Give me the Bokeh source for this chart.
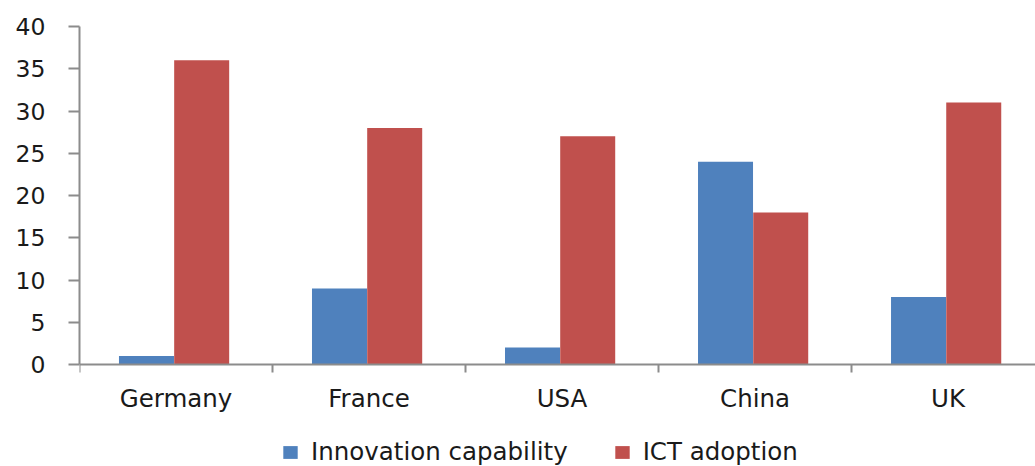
from bokeh.plotting import figure
from bokeh.models import Range1d, FixedTicker, ColumnDataSource, Legend, LegendItem
from bokeh.embed import file_html
from bokeh.resources import INLINE

countries = ["Germany", "France", "USA", "China", "UK"]
innovation = [1, 9, 2, 24, 8]
ict = [36, 28, 27, 18, 31]
y_ticks = [0, 5, 10, 15, 20, 25, 30, 35, 40]

FONT = "DejaVu Sans"
FS_Y = "23.5px"
FS = "24.5px"
AXIS_COLOR = "#8c8c8c"
TEXT_COLOR = "#1a1a1a"

centers = [i + 0.5 for i in range(len(countries))]
bar_w = 0.285
off = 0.143
shift = -0.01

src = ColumnDataSource(dict(
    xb=[c - off + shift for c in centers],
    xr=[c + off + shift for c in centers],
    inn=innovation,
    ict=ict,
))

p = figure(width=1035, height=466, output_backend="svg", toolbar_location=None,
           x_range=Range1d(0, 4.953), y_range=Range1d(-12.07, 40),
           min_border_left=79, min_border_top=26, min_border_bottom=0, min_border_right=0)
p.outline_line_color = None
p.xgrid.visible = False
p.ygrid.visible = False
p.background_fill_color = "white"
p.border_fill_color = "white"

r1 = p.vbar(x="xb", top="inn", width=bar_w, source=src, fill_color="#4F81BD", line_color=None)
r2 = p.vbar(x="xr", top="ict", width=bar_w, source=src, fill_color="#C0504D", line_color=None)

xa = p.xaxis[0]
xa.fixed_location = 0
xa.ticker = FixedTicker(ticks=centers, minor_ticks=list(range(len(countries) + 1)))
xa.major_label_overrides = {c: n for c, n in zip(centers, countries)}
xa.major_tick_out = 0
xa.major_tick_in = 0
xa.minor_tick_out = 8
xa.minor_tick_in = 0
xa.minor_tick_line_color = AXIS_COLOR
xa.minor_tick_line_width = 2
xa.axis_line_color = AXIS_COLOR
xa.axis_line_width = 2
xa.major_label_standoff = 11
xa.major_label_text_font = FONT
xa.major_label_text_font_size = FS
xa.major_label_text_color = TEXT_COLOR

ya = p.yaxis[0]
ya.bounds = (0, 40)
ya.ticker = FixedTicker(ticks=y_ticks, minor_ticks=[])
ya.major_tick_out = 11
ya.major_tick_in = 0
ya.minor_tick_out = 0
ya.minor_tick_in = 0
ya.major_tick_line_color = AXIS_COLOR
ya.major_tick_line_width = 2
ya.axis_line_color = AXIS_COLOR
ya.axis_line_width = 2
ya.major_label_standoff = 23
ya.major_label_text_font = FONT
ya.major_label_text_font_size = FS_Y
ya.major_label_text_color = TEXT_COLOR

legend = Legend(items=[LegendItem(label="Innovation capability", renderers=[r1]),
                       LegendItem(label="ICT adoption", renderers=[r2])],
                orientation="horizontal", location=(202, 0),
                glyph_width=18, glyph_height=16, label_standoff=12, spacing=45,
                padding=0, margin=0, border_line_color=None, background_fill_alpha=0,
                label_text_font=FONT, label_text_font_size=FS, label_text_color=TEXT_COLOR)
p.add_layout(legend, "center")

open("out.html", "w").write(file_html(p, INLINE))
